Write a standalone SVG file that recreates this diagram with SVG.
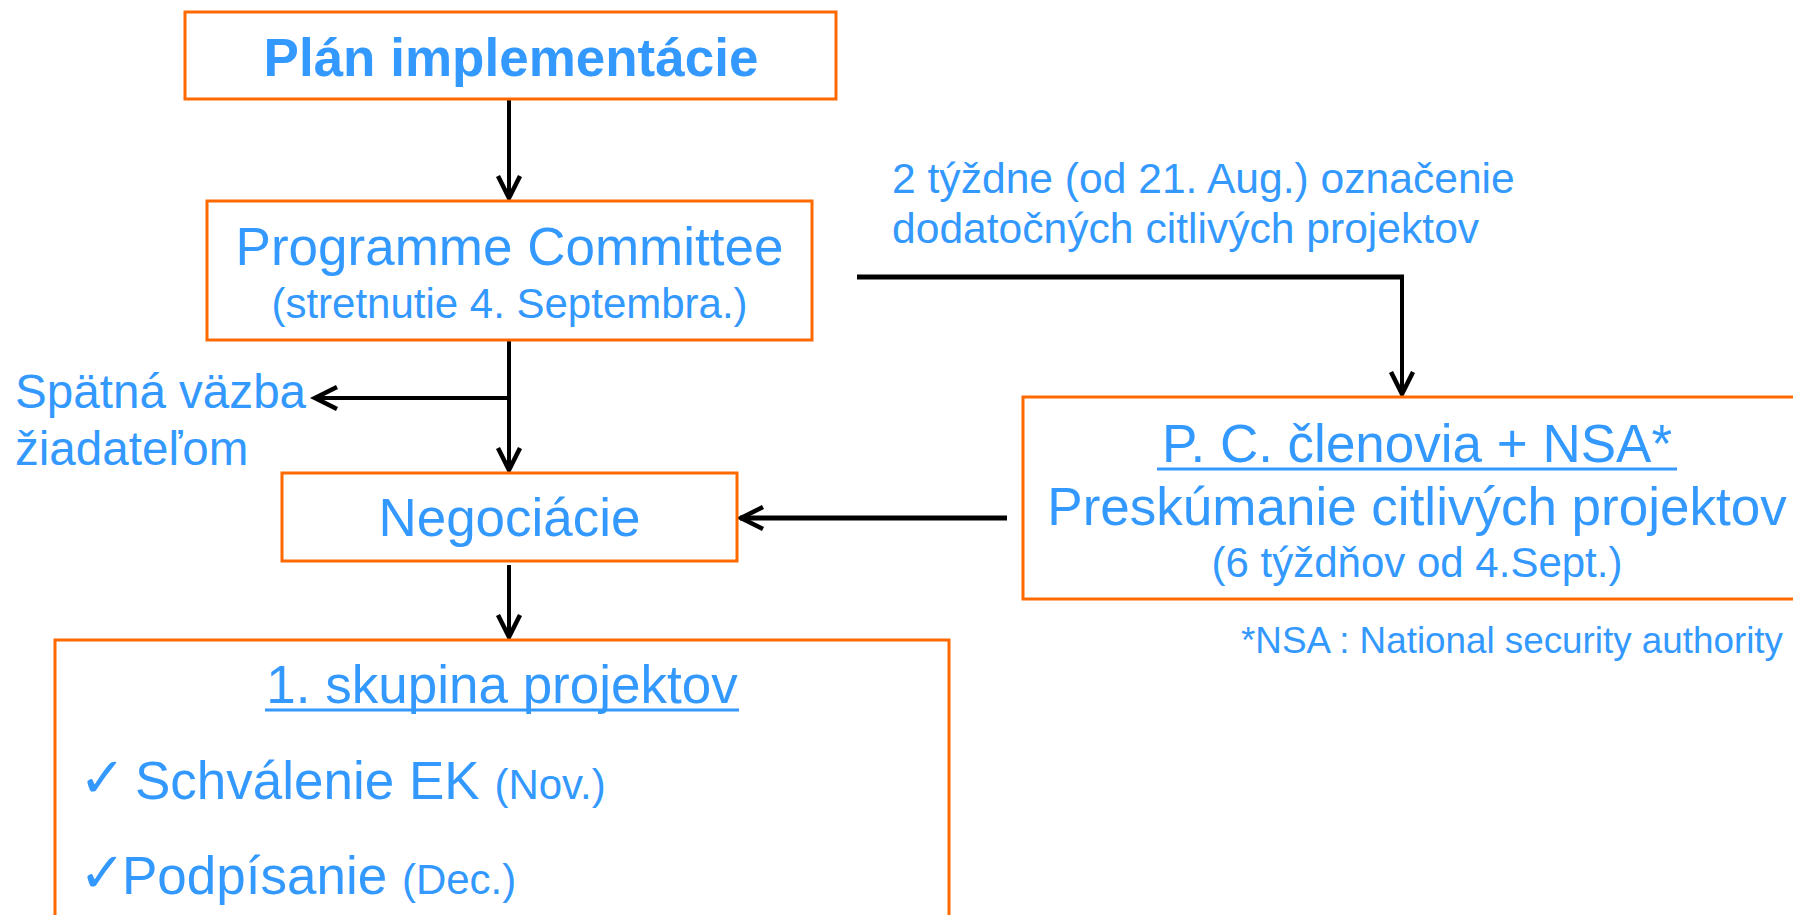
<svg xmlns="http://www.w3.org/2000/svg" width="1793" height="915" viewBox="0 0 1793 915">
<defs>
<style>
.box{fill:#fff;stroke:#FF6A00;stroke-width:3}
.t{font-family:"Liberation Sans",Arial,sans-serif;fill:#3399FF}
.c{text-anchor:middle}
.b{font-weight:bold}
.ln{stroke:#000;fill:none;stroke-width:4}
.ul{stroke:#3399FF;stroke-width:3}
.chk{font-family:"DejaVu Sans",sans-serif;fill:#3399FF;font-weight:bold}
</style>
<marker id="ah" markerUnits="userSpaceOnUse" markerWidth="30" markerHeight="30" viewBox="-15 -15 30 30" refX="0" refY="0" orient="auto" overflow="visible">
<path d="M-23,-11 L-1,0 L-23,11" fill="none" stroke="#000" stroke-width="4.5" stroke-linejoin="miter"/>
<path d="M-10,-4 L0,0 L-10,4 Z" fill="#000"/>
</marker>
</defs>
<rect width="1793" height="915" fill="#fff"/>
<g id="connectors">
<line class="ln" x1="509" y1="99" x2="509" y2="199" marker-end="url(#ah)"/>
<line class="ln" x1="509" y1="340" x2="509" y2="471" marker-end="url(#ah)"/>
<line class="ln" x1="509" y1="398" x2="314" y2="398" marker-end="url(#ah)"/>
<line class="ln" x1="857" y1="277" x2="1404" y2="277" style="stroke-width:5"/>
<line class="ln" x1="1402" y1="277" x2="1402" y2="395" marker-end="url(#ah)"/>
<line class="ln" x1="1007" y1="518" x2="740" y2="518" style="stroke-width:5" marker-end="url(#ah)"/>
<line class="ln" x1="509" y1="565" x2="509" y2="638" marker-end="url(#ah)"/>
</g>
<g id="plan">
<rect class="box" x="185" y="12" width="651" height="87"/>
<text class="t c b" x="511" y="76" font-size="53">Plán implementácie</text>
</g>
<g id="pc">
<rect class="box" x="207" y="201" width="605" height="139"/>
<text class="t c" x="509.5" y="265" font-size="53">Programme Committee</text>
<text class="t c" x="509.5" y="318" font-size="42">(stretnutie 4. Septembra.)</text>
</g>
<g id="feedback">
<text class="t" x="15" y="408" font-size="47.6">Spätná väzba</text>
<text class="t" x="15" y="465" font-size="47.6">žiadateľom</text>
</g>
<g id="label2">
<text class="t" x="892" y="193" font-size="42.6">2 týždne (od 21. Aug.) označenie</text>
<text class="t" x="892" y="243" font-size="42.6">dodatočných citlivých projektov</text>
</g>
<g id="neg">
<rect class="box" x="282" y="473" width="455" height="88"/>
<text class="t c" x="509.5" y="536" font-size="53">Negociácie</text>
</g>
<g id="nsa">
<rect class="box" x="1023" y="397" width="790" height="202"/>
<text class="t c" x="1417" y="462" font-size="53">P. C. členovia + NSA*</text>
<line class="ul" x1="1157" y1="469" x2="1677" y2="469"/>
<text class="t c" x="1417" y="525" font-size="53">Preskúmanie citlivých projektov</text>
<text class="t c" x="1417" y="577" font-size="42">(6 týždňov od 4.Sept.)</text>
</g>
<g id="note">
<text class="t" x="1241" y="653" font-size="36.8">*NSA : National security authority</text>
</g>
<g id="skupina">
<rect class="box" x="55" y="640" width="894" height="300"/>
<text class="t c" x="502" y="703" font-size="53">1. skupina projektov</text>
<line class="ul" x1="265" y1="710" x2="739" y2="710"/>
<text class="chk" x="79" y="797" font-size="56">✓</text>
<text class="t" x="135" y="799" font-size="53">Schválenie EK <tspan font-size="42">(Nov.)</tspan></text>
<text class="chk" x="79" y="892" font-size="56">✓</text>
<text class="t" x="122" y="894" font-size="53">Podpísanie <tspan font-size="42">(Dec.)</tspan></text>
</g>
</svg>
